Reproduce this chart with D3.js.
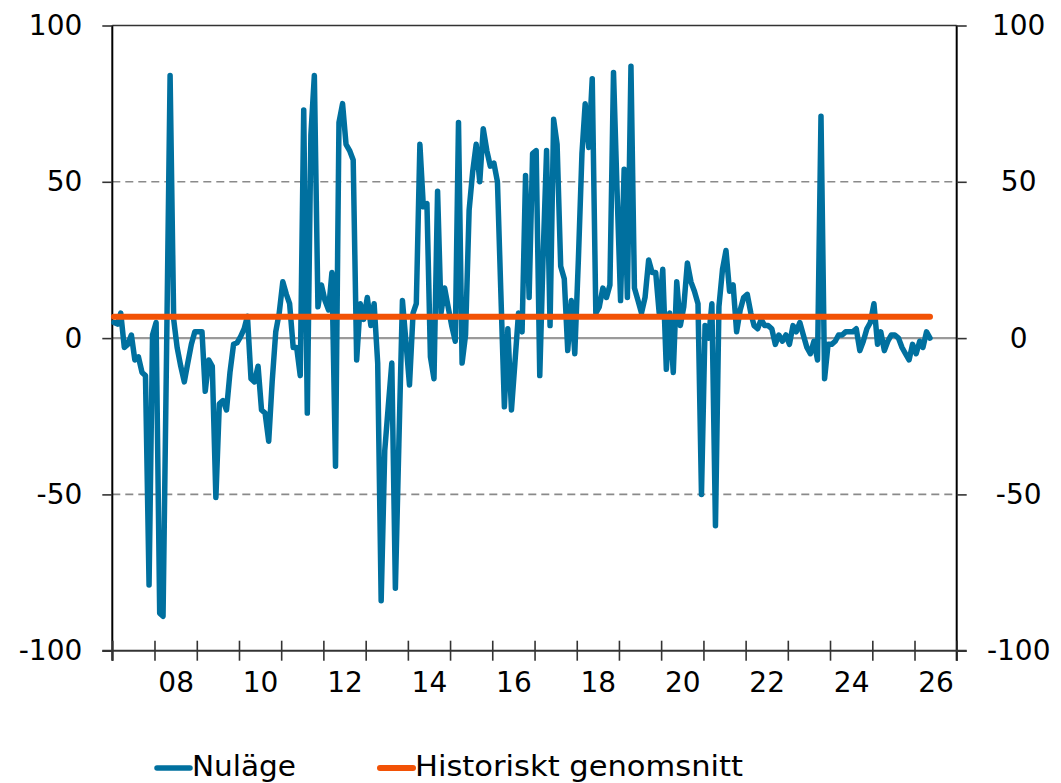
<!DOCTYPE html>
<html>
<head>
<meta charset="utf-8">
<script src="https://cdn.jsdelivr.net/npm/d3@7"></script>
<style>
  html, body { margin: 0; padding: 0; background: #fff; }
  svg { display: block; }
  text { font-family: "DejaVu Sans", Verdana, sans-serif; font-size: 28px; fill: #000; }
</style>
</head>
<body>
<svg id="chart" width="1061" height="783"></svg>
<script>
// ---- Data (monthly, starting January 2007) ----
const startYear = 2007;
const v2007 = [5, 4.5, 8, -3, -2, 1, -7, -6, -11, -12, -79, 1];
const v2008 = [5, -88, -89, -3, 84, 6, -3, -9, -14, -8, -2, 2];
const v2009 = [2, 2, -17, -7, -9, -51, -21, -20, -23, -11, -2, -1.5];
const v2010 = [0.5, 3, 7, -13, -14, -9, -23, -24, -33, -14, 2, 8];
const v2011 = [18, 14, 11, -3, -3, -12, 73, -24, 65, 84, 10, 17];
const v2012 = [12, 9, 21, -41, 69, 75, 62, 60, 57, -7, 11, 6];
const v2013 = [13, 4, 11, -8, -84, -36, -22, -8, -80, -34, 12, -1];
const v2014 = [-15, 8, 11, 62, 42, 43, -6, -13, 47, 8, 16, 10];
const v2015 = [4, -1, 69, -8, 1, 41, 53, 62, 50, 67, 60, 55];
const v2016 = [56, 50, 15, -22, 3, -23, -8, 8, 2, 52, 13, 59];
const v2017 = [60, -12, 25, 60, 4, 70, 62, 23, 19, -4, 12, -5];
const v2018 = [25, 59, 75, 61, 83, 8, 10, 16, 13, 17, 85, 48];
const v2019 = [12, 54, 13, 87, 16, 12, 8, 13, 25, 21, 21, 8];
const v2020 = [22, -10, 8, -11, 18, 4, 10, 24, 18, 15, 11, -50];
const v2021 = [4, 0, 11, -60, 10, 22, 28, 15, 17, 2, 9, 13];
const v2022 = [14, 8, 4, 3, 6, 4, 4, 3, -2, 1, -1, 1];
const v2023 = [-2, 4, 2, 5, 1, -3, -5, -1, -7, 71, -13, -2];
const v2024 = [-2, -1, 1, 1, 2, 2, 2, 3, -4, -1, 3, 5];
const v2025 = [11, -2, 2, -4, -1, 1, 1, 0, -3, -5, -7, -2];
const v2026 = [-5, -1, -3, 2, 0];
const historicalAverage = 6.8;

const yTicks = [-100, -50, 0, 50, 100];
const xLabelYears = [2008, 2010, 2012, 2014, 2016, 2018, 2020, 2022, 2024, 2026];
const seriesNames = ["Nuläge", "Historiskt genomsnitt"];

// ---- Build the series ----
const nulage = [].concat(v2007, v2008, v2009, v2010, v2011, v2012, v2013, v2014,
  v2015, v2016, v2017, v2018, v2019, v2020, v2021, v2022, v2023, v2024, v2025, v2026);
const seriesData = nulage.map((v, i) => ({ date: new Date(startYear, i, 15), value: v }));
const avgData = seriesData.map(d => ({ date: d.date, value: historicalAverage }));

// ---- Layout ----
const svg = d3.select("#chart");
const plotLeft = 112.3, plotRight = 956.7, plotTop = 25.5, plotBottom = 650.7;

const x = d3.scaleTime()
  .domain([new Date(2007, 0, 1), new Date(2027, 0, 1)])
  .range([plotLeft, plotRight]);
const y = d3.scaleLinear().domain([-100, 100]).range([plotBottom, plotTop]);

const blue = "#00709f";
const orange = "#f25206";
const numFmt = d => String(d);

// Gridlines at ±50 (dashed)
svg.append("g").selectAll("line")
  .data([50, -50]).join("line")
  .attr("x1", plotLeft).attr("x2", plotRight)
  .attr("y1", d => y(d)).attr("y2", d => y(d))
  .attr("stroke", "#8a8a8a").attr("stroke-width", 1.6)
  .attr("stroke-dasharray", "8,5");

// Top line at 100
svg.append("line")
  .attr("x1", plotLeft).attr("x2", plotRight)
  .attr("y1", y(100)).attr("y2", y(100))
  .attr("stroke", "#333").attr("stroke-width", 1.5);

// Zero line
svg.append("line")
  .attr("x1", plotLeft).attr("x2", plotRight)
  .attr("y1", y(0)).attr("y2", y(0))
  .attr("stroke", "#9a9a9a").attr("stroke-width", 2.2);

// Left axis
const yAxisL = svg.append("g")
  .attr("transform", `translate(${plotLeft},0)`)
  .call(d3.axisLeft(y).tickValues(yTicks).tickFormat(numFmt)
    .tickSize(10).tickPadding(20).tickSizeOuter(0));
// Right axis
const yAxisR = svg.append("g")
  .attr("transform", `translate(${plotRight},0)`)
  .call(d3.axisRight(y).tickValues(yTicks).tickFormat(numFmt)
    .tickSize(10).tickPadding(8).tickSizeOuter(0));
yAxisR.selectAll(".tick text").attr("text-anchor", "middle").attr("x", 62);

// Bottom axis (ticks at year boundaries, crossing the axis)
const xAxis = svg.append("g")
  .attr("transform", `translate(0,${plotBottom})`)
  .call(d3.axisBottom(x).ticks(d3.timeYear.every(1)).tickSize(10).tickSizeOuter(0).tickFormat(""));
xAxis.selectAll(".tick line").attr("y1", -10).attr("y2", 10);
xAxis.select(".domain").remove();
xAxis.append("line")
  .attr("x1", plotLeft - 10).attr("x2", plotRight + 10)
  .attr("y1", 0).attr("y2", 0)
  .attr("stroke", "#333").attr("stroke-width", 2);

// Year labels centred within each labelled year
const xLabels = svg.append("g")
  .attr("transform", `translate(0,${plotBottom})`)
  .call(d3.axisBottom(x)
    .tickValues(xLabelYears.map(yr => new Date(yr, 6, 2)))
    .tickFormat(d3.timeFormat("%y"))
    .tickSize(0).tickPadding(21));
xLabels.select(".domain").remove();

[yAxisL, yAxisR, xAxis].forEach(g => {
  g.selectAll(".domain").attr("stroke", "#000").attr("stroke-width", 2);
  g.selectAll(".tick line").attr("stroke", "#333").attr("stroke-width", 1.6);
});
yAxisL.select(".domain").attr("d", `M0,${plotTop}V${plotBottom + 10}`);
yAxisR.select(".domain").attr("d", `M0,${plotTop}V${plotBottom + 10}`);
svg.selectAll(".tick text")
  .style("font-family", '"DejaVu Sans", Verdana, sans-serif')
  .style("font-size", "28px").attr("fill", "#000");

// Lines
const line = d3.line().x(d => x(d.date)).y(d => y(d.value));

svg.append("path")
  .datum(seriesData)
  .attr("d", line)
  .attr("fill", "none")
  .attr("stroke", blue)
  .attr("stroke-width", 5.5)
  .attr("stroke-linejoin", "round")
  .attr("stroke-linecap", "round");

svg.append("path")
  .datum(avgData)
  .attr("d", line)
  .attr("fill", "none")
  .attr("stroke", orange)
  .attr("stroke-width", 6)
  .attr("stroke-linecap", "round");

// Legend
const legend = svg.append("g");
const legendItems = [
  { name: seriesNames[0], color: blue, x: 157, w: 5.5, len: 104 },
  { name: seriesNames[1], color: orange, x: 380, w: 6, len: 328 }
];
legendItems.forEach(it => {
  legend.append("line")
    .attr("x1", it.x).attr("x2", it.x + 33)
    .attr("y1", 768).attr("y2", 768)
    .attr("stroke", it.color).attr("stroke-width", it.w)
    .attr("stroke-linecap", "round");
  legend.append("text")
    .attr("x", it.x + 35).attr("y", 776)
    .attr("textLength", it.len)
    .attr("lengthAdjust", "spacingAndGlyphs")
    .text(it.name);
});
</script>
</body>
</html>
